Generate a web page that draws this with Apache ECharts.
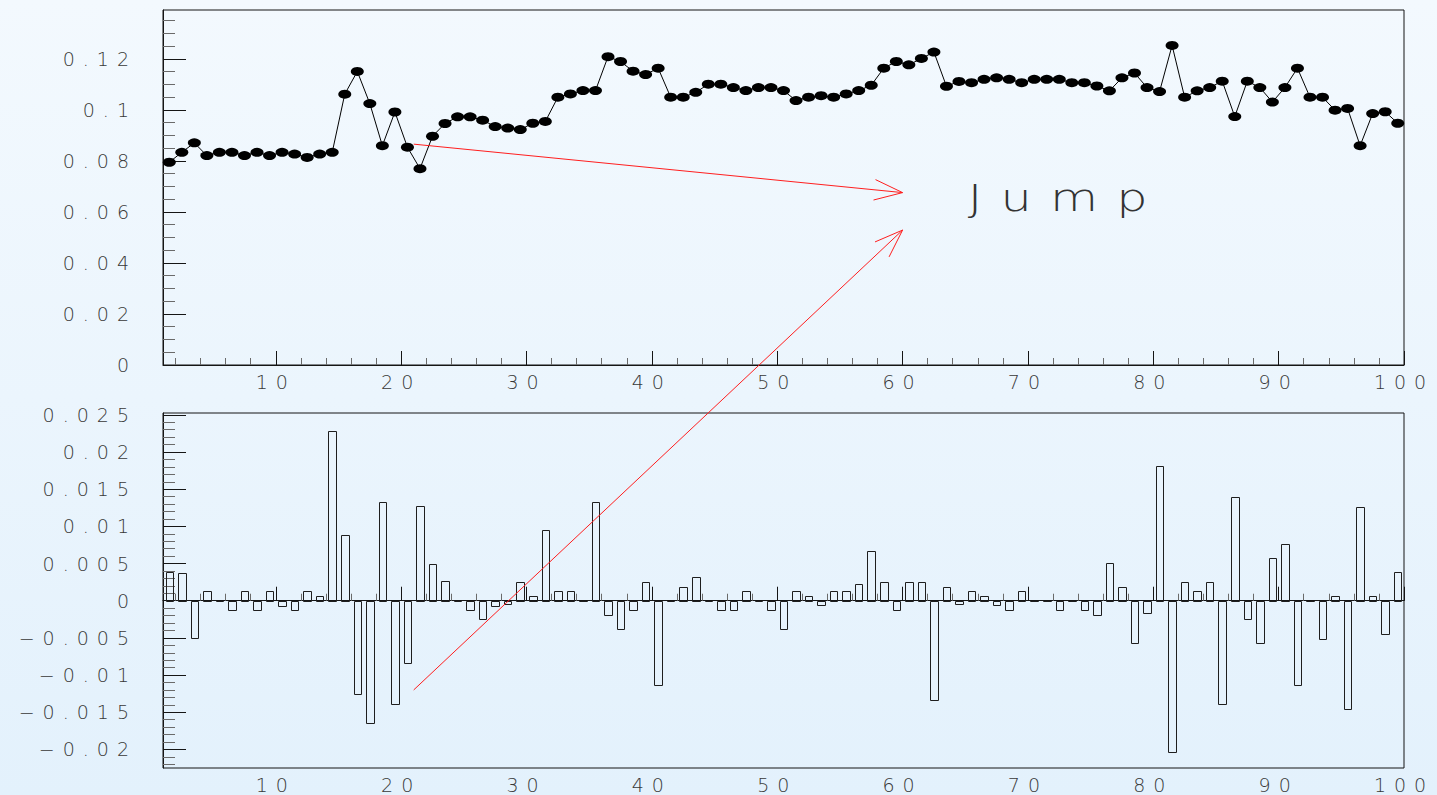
<!DOCTYPE html>
<html>
<head>
<meta charset="utf-8">
<script src="https://cdn.jsdelivr.net/npm/echarts@6/dist/echarts.min.js"></script>
<style>
  html, body { margin: 0; padding: 0; }
  #chart {
    width: 1437px; height: 795px;
    background: linear-gradient(#f3f9fe, #e3f1fc);
  }
  #chart text { letter-spacing: 8px; }
  #chart text[style*="38px"] { letter-spacing: 14px; }
</style>
</head>
<body>
<div id="chart"></div>
<script>
// 99 bins of unit width starting at x = 1; values sit at the bin centres
const axisStart = 1;
const axisEnd = 100;
const binWidth = 1;

// level per bin (upper pad)
const levels = [
  0.0795, 0.0834, 0.0871, 0.0821, 0.0834, 0.0834, 0.0821, 0.0834, 0.0821, 0.0834,
  0.0827, 0.0814, 0.0827, 0.0834, 0.1062, 0.1151, 0.1025, 0.0860, 0.0992, 0.0854,
  0.0770, 0.0897, 0.0947, 0.0973, 0.0973, 0.0960, 0.0935, 0.0929, 0.0923, 0.0948,
  0.0955, 0.1050, 0.1063, 0.1076, 0.1076, 0.1209, 0.1190, 0.1152, 0.1139, 0.1164,
  0.1050, 0.1050, 0.1069, 0.1101, 0.1101, 0.1088, 0.1076, 0.1088, 0.1088, 0.1076,
  0.1037, 0.1050, 0.1056, 0.1050, 0.1063, 0.1076, 0.1097, 0.1164, 0.1190, 0.1177,
  0.1202, 0.1227, 0.1093, 0.1112, 0.1107, 0.1120, 0.1126, 0.1120, 0.1107, 0.1120,
  0.1120, 0.1120, 0.1107, 0.1107, 0.1094, 0.1075, 0.1126, 0.1145, 0.1088, 0.1072,
  0.1253, 0.1050, 0.1075, 0.1088, 0.1113, 0.0974, 0.1113, 0.1088, 0.1031, 0.1088,
  0.1164, 0.1050, 0.1050, 0.0999, 0.1006, 0.0860, 0.0986, 0.0993, 0.0948
];

// bin-to-bin change (lower pad)
const steps = [
  0.0039, 0.0037, -0.0050, 0.0013, 0, -0.0013, 0.0013, -0.0013, 0.0013, -0.0007,
  -0.0013, 0.0013, 0.0007, 0.0228, 0.0089, -0.0126, -0.0165, 0.0133, -0.0139, -0.0084,
  0.0127, 0.0050, 0.0026, 0, -0.0013, -0.0025, -0.0007, -0.0005, 0.0025, 0.0007,
  0.0095, 0.0013, 0.0013, 0, 0.0133, -0.0019, -0.0038, -0.0013, 0.0025, -0.0114,
  0, 0.0019, 0.0032, 0, -0.0013, -0.0013, 0.0013, 0, -0.0013, -0.0038,
  0.0013, 0.0006, -0.0006, 0.0013, 0.0013, 0.0022, 0.0067, 0.0025, -0.0013, 0.0025,
  0.0025, -0.0134, 0.0019, -0.0005, 0.0013, 0.0006, -0.0006, -0.0013, 0.0013, 0,
  0, -0.0013, 0, -0.0013, -0.0019, 0.0051, 0.0019, -0.0057, -0.0016, 0.0181,
  -0.0203, 0.0025, 0.0013, 0.0025, -0.0139, 0.0139, -0.0025, -0.0057, 0.0057, 0.0076,
  -0.0114, 0, -0.0051, 0.0007, -0.0146, 0.0126, 0.0007, -0.0045, 0.0038
];

// tick values and their labels
const xTickValues = [10, 20, 30, 40, 50, 60, 70, 80, 90, 100];
const xTickLabels = ['10', '20', '30', '40', '50', '60', '70', '80', '90', '100'];
const topYTickValues = [0, 0.02, 0.04, 0.06, 0.08, 0.1, 0.12];
const topYTickLabels = ['0', '0.02', '0.04', '0.06', '0.08', '0.1', '0.12'];
const lowYTickValues = [-0.02, -0.015, -0.01, -0.005, 0, 0.005, 0.01, 0.015, 0.02, 0.025];
const lowYTickLabels = ['\u22120.02', '\u22120.015', '\u22120.01', '\u22120.005', '0',
                        '0.005', '0.01', '0.015', '0.02', '0.025'];

// annotation: the "Jump" caption and the two arrows pointing at it
const jumpText = 'Jump';
const jumpAnchor = [65.2, 0.0655];
const arrowUpper = { from: [21.0, 0.0866], to: [60.0, 0.0676] };
const arrowLower = { from: [21.0, -0.0120], to: [60.0, 0.0529] };

const binCentre = i => axisStart + (i + 0.5) * binWidth;
const levelPoints = levels.map((v, i) => [binCentre(i), v]);
const stepPoints = steps.map((v, i) => [binCentre(i), v]);

// minor tick positions
const xMinor = [];
for (let k = 2; k < 100; k += 2) if (k % 10 !== 0) xMinor.push(k);
const topYMinor = [];
for (let k = 1; k <= 27; k++) if (k % 4 !== 0) topYMinor.push(k * 0.005);
const lowYMinor = [];
for (let k = -22; k <= 25; k++) if (k % 5 !== 0) lowYMinor.push(k * 0.001);

const labelFont = { color: '#383838', fontSize: 19, fontFamily: 'DejaVu Sans', fontWeight: 200 };
const axisColor = '#151515';
const minorColor = '#6a6a6a';

function labelFrom(values, labels) {
  return v => {
    let best = 0;
    values.forEach((t, i) => { if (Math.abs(t - v) < Math.abs(values[best] - v)) best = i; });
    return labels[best];
  };
}

function xAxes(grid) {
  return [
    {
      gridIndex: grid, type: 'value', position: 'bottom', min: axisStart, max: axisEnd,
      axisLine: { lineStyle: { color: axisColor, width: 1 } },
      axisTick: { inside: true, length: 14, customValues: xTickValues, lineStyle: { color: axisColor } },
      axisLabel: Object.assign({ customValues: xTickValues, margin: 7,
        formatter: labelFrom(xTickValues, xTickLabels) }, labelFont),
      splitLine: { show: false }
    },
    {
      gridIndex: grid, type: 'value', position: 'bottom', min: axisStart, max: axisEnd,
      axisLine: { show: false },
      axisTick: { inside: true, length: 7, customValues: xMinor, lineStyle: { color: minorColor } },
      axisLabel: { show: false },
      splitLine: { show: false }
    }
  ];
}

function yAxes(grid, min, max, majors, labels, minors, minorLen) {
  return [
    {
      gridIndex: grid, type: 'value', position: 'left', min: min, max: max,
      axisLine: { show: true, lineStyle: { color: axisColor, width: 1 } },
      axisTick: { show: true, inside: true, length: 23, customValues: majors, lineStyle: { color: axisColor } },
      axisLabel: Object.assign({ customValues: majors, margin: 26,
        formatter: labelFrom(majors, labels) }, labelFont),
      splitLine: { show: false }
    },
    {
      gridIndex: grid, type: 'value', position: 'left', min: min, max: max,
      axisLine: { show: false },
      axisTick: { show: true, inside: true, length: minorLen, customValues: minors, lineStyle: { color: minorColor } },
      axisLabel: { show: false },
      splitLine: { show: false }
    }
  ];
}

const barHalf = 0.3;

const option = {
  animation: false,
  backgroundColor: 'transparent',
  grid: [
    { left: 163, top: 10, width: 1241, height: 355, show: true,
      borderColor: axisColor, borderWidth: 1, backgroundColor: 'transparent' },
    { left: 163, top: 413, width: 1241, height: 355, show: true,
      borderColor: axisColor, borderWidth: 1, backgroundColor: 'transparent' }
  ],
  xAxis: [...xAxes(0), ...xAxes(1)],
  yAxis: [
    ...yAxes(0, 0, 0.1392, topYTickValues, topYTickLabels, topYMinor, 12),
    ...yAxes(1, -0.0225, 0.02525, lowYTickValues, lowYTickLabels, lowYMinor, 12)
  ],
  series: [
    {
      type: 'line', xAxisIndex: 0, yAxisIndex: 0, data: levelPoints,
      symbol: 'circle', symbolSize: [13, 9], showSymbol: true,
      itemStyle: { color: '#000' },
      lineStyle: { color: '#000', width: 1 },
      silent: true, z: 3
    },
    {
      type: 'custom', xAxisIndex: 2, yAxisIndex: 2, data: stepPoints, silent: true,
      renderItem(params, api) {
        const x = api.value(0), v = api.value(1);
        const a = api.coord([x - barHalf, v]);
        const b = api.coord([x + barHalf, 0]);
        const x0 = Math.round(a[0]) + 0.5, x1 = Math.round(b[0]) + 0.5;
        const y0 = Math.round(a[1]) + 0.5, y1 = Math.round(b[1]) + 0.5;
        return {
          type: 'polygon',
          shape: { points: [[x0, y1], [x0, y0], [x1, y0], [x1, y1]] },
          style: { fill: 'none', stroke: '#1e1e1e', lineWidth: 1 }
        };
      }
    }
  ]
};

const chart = echarts.init(document.getElementById('chart'), null,
  { renderer: 'svg', width: 1437, height: 795 });
chart.setOption(option);

// arrows: a straight shaft plus an open two-stroke head
function arrow(p0, p1) {
  const ang = Math.atan2(p1[1] - p0[1], p1[0] - p0[0]);
  const len = 30, spread = 20 * Math.PI / 180;
  const w1 = [p1[0] - len * Math.cos(ang - spread), p1[1] - len * Math.sin(ang - spread)];
  const w2 = [p1[0] - len * Math.cos(ang + spread), p1[1] - len * Math.sin(ang + spread)];
  const style = { stroke: '#ff1e1e', lineWidth: 1, fill: null };
  return [
    { type: 'line', shape: { x1: p0[0], y1: p0[1], x2: p1[0], y2: p1[1] }, style: style, silent: true, z: 10 },
    { type: 'polyline', shape: { points: [w1, p1, w2] }, style: style, silent: true, z: 10 }
  ];
}

const up = s => chart.convertToPixel({ seriesIndex: 0 }, s);
const low = s => chart.convertToPixel({ seriesIndex: 1 }, s);
const jumpPos = up(jumpAnchor);

chart.setOption({
  graphic: [
    ...arrow(up(arrowUpper.from), up(arrowUpper.to)),
    ...arrow(low(arrowLower.from), up(arrowLower.to)),
    {
      type: 'text', x: jumpPos[0], y: jumpPos[1], scaleX: 1.3, silent: true, z: 10,
      style: { text: jumpText, fill: '#333', fontSize: 38, fontFamily: 'DejaVu Sans', fontWeight: 200,
               align: 'left', verticalAlign: 'middle' }
    }
  ]
});
</script>
</body>
</html>
